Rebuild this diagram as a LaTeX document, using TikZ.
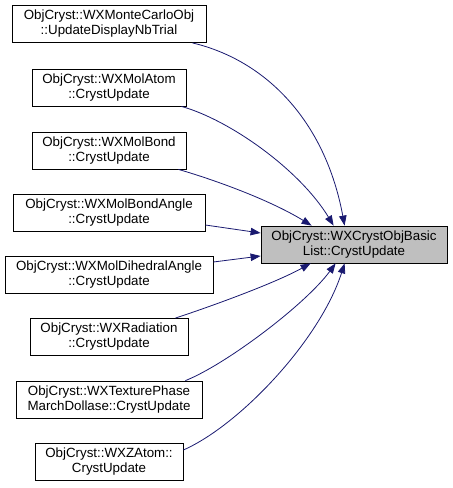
\documentclass[tikz,border=0pt]{standalone}
\usepackage{fontspec}
\setmainfont{Liberation Sans}
\usetikzlibrary{arrows.meta}
\definecolor{edgeblue}{HTML}{191970}
\definecolor{boxgray}{HTML}{BFBFBF}
\begin{document}
\begin{tikzpicture}[x=1pt,y=-1pt,
  fn/.style={draw=black, line width=0.8pt, fill=white, minimum height=37pt, inner sep=0pt, align=center, font=\fontsize{13.33}{15}\selectfont},
  cn/.style={fn, fill=boxgray},
  calls/.style={draw=edgeblue, line width=0.8pt, -{Triangle[length=10pt,width=7.5pt,fill=edgeblue]}}]
\useasboundingbox (0,0) rectangle (453,488);

\node[cn, minimum width=186pt] (c) at (354,244.5) {ObjCryst::WXCrystObjBasic\\List::CrystUpdate};

\node[fn, minimum width=194pt] (n1) at (109,24) {ObjCryst::WXMonteCarloObj\\::UpdateDisplayNbTrial};
\node[fn, minimum width=154pt] (n2) at (109,87.5) {ObjCryst::WXMolAtom\\::CrystUpdate};
\node[fn, minimum width=154pt] (n3) at (109,150.5) {ObjCryst::WXMolBond\\::CrystUpdate};
\node[fn, minimum width=192pt] (n4) at (109,212.5) {ObjCryst::WXMolBondAngle\\::CrystUpdate};
\node[fn, minimum width=208pt] (n5) at (109,274.5) {ObjCryst::WXMolDihedralAngle\\::CrystUpdate};
\node[fn, minimum width=158pt] (n6) at (109,337) {ObjCryst::WXRadiation\\::CrystUpdate};
\node[fn, minimum width=186pt] (n7) at (109,399.5) {ObjCryst::WXTexturePhase\\MarchDollase::CrystUpdate};
\node[fn, minimum width=148pt] (n8) at (109,462) {ObjCryst::WXZAtom::\\CrystUpdate};

\draw[calls] ([xshift=-14pt]n1.south east) .. controls (265,60) and (325,120) .. ([xshift=84pt]c.north west);
\draw[calls] ([xshift=-5pt]n2.south east) .. controls (230,120) and (300,170) .. ([xshift=73pt]c.north west);
\draw[calls] ([xshift=-8pt]n3.south east) .. controls (215,180) and (270,200) .. ([xshift=51pt]c.north west);
\draw[calls] ([yshift=-12.5pt]n4.east) -- ([yshift=11.5pt]c.west);
\draw[calls] ([yshift=12.5pt]n5.east) -- ([yshift=-11.5pt]c.west);
\draw[calls] ([xshift=-13pt]n6.north east) .. controls (215,305) and (275,283) .. ([xshift=50pt]c.south west);
\draw[calls] ([xshift=-17pt]n7.north east) .. controls (225,365) and (305,305) .. ([xshift=75pt]c.south west);
\draw[calls] ([yshift=12pt]n8.east) .. controls (240,425) and (320,340) .. ([xshift=84pt]c.south west);
\end{tikzpicture}
\end{document}
